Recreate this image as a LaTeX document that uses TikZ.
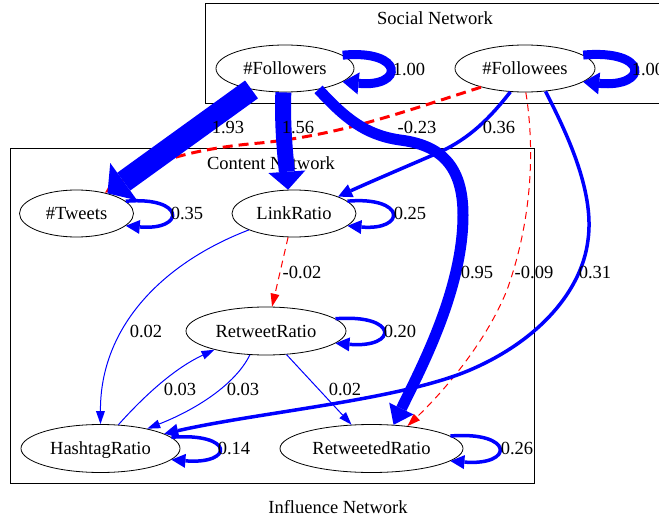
\documentclass[tikz,border=0pt]{standalone}
\usepackage{fontspec}
\setmainfont{Liberation Serif}
\usetikzlibrary{arrows.meta,shapes.geometric}

\definecolor{edgeblue}{RGB}{0,0,255}
\definecolor{edgered}{RGB}{255,0,0}

\begin{document}
\begin{tikzpicture}[x=1pt,y=-1pt,
  txt/.style={font=\fontsize{18.5}{22}\selectfont, inner sep=0pt, text height=12.5pt, text depth=0pt},
  var/.style={txt, draw=black, line width=0.8pt, ellipse, minimum height=47pt},
  cluster/.style={draw=black, line width=0.8pt},
  blueedge/.style={draw=edgeblue},
  rededge/.style={draw=edgered, dash pattern=on 7pt off 5pt},
  w1/.style={line width=1pt, -{Triangle[length=13pt,width=9pt,line width=0pt]}},
  w3/.style={line width=3.5pt, -{Triangle[length=14pt,width=14pt,line width=0pt]}},
  w9/.style={line width=9pt, -{Triangle[length=16pt,width=22pt,line width=0pt]}},
  w11/.style={line width=11pt, -{Triangle[length=18pt,width=27pt,line width=0pt]}},
  w16/.style={line width=16pt, -{Triangle[length=18pt,width=37pt,line width=0pt]}},
  w22/.style={line width=22pt, -{Triangle[length=20pt,width=46pt,line width=0pt]}},
]
\useasboundingbox (0,0) rectangle (659,519);

% clusters and their titles
\draw[cluster] (205,3) rectangle (700,103);
\draw[cluster] (10,148) rectangle (534,483);
\node[txt] (socialLbl) at (435,18) {Social Network};
\node[txt] (contentLbl) at (271,163) {Content Network};
\node[txt] (graphLbl) at (338,507) {Influence Network};

% variables
\node[var, minimum width=138pt] (fol) at (285,68.5) {\#Followers};
\node[var, minimum width=140pt] (fee) at (525,68.5) {\#Followees};
\node[var, minimum width=114pt] (tw) at (76.5,213.5) {\#Tweets};
\node[var, minimum width=124pt] (lr) at (294,213.5) {LinkRatio};
\node[var, minimum width=160pt, minimum height=48pt] (rr) at (266,331) {RetweetRatio};
\node[var, minimum width=159pt, minimum height=48pt] (hr) at (100.5,448.5) {HashtagRatio};
\node[var, minimum width=183pt, minimum height=48pt] (rd) at (371.5,448.5) {RetweetedRatio};

% negative influence (drawn first, under the heavy arrows)
\draw[rededge, line width=3pt, dash pattern=on 10pt off 6pt, -{Triangle[length=14pt,width=13pt,line width=0pt]}]
  (fee.-157) .. controls (400,113) and (340,135) .. (260,143)
  .. controls (200,148) and (150,160) .. (tw.36);
\draw[rededge, w1] (fee.-88) .. controls (535,150) and (532,220) .. (507,290)
  .. controls (485,345) and (440,395) .. (rd.32);
\draw[rededge, w1] (lr.-104) -- (rr.76);

% positive influence
\draw[blueedge, w22] (fol.-148) -- (tw.33);
\draw[blueedge, w16] (fol.-94) .. controls (282,130) and (286,160) .. (lr.104);
\draw[blueedge, w11] (fol.-32) .. controls (345,118) and (365,135) .. (400,140)
  .. controls (440,145) and (463,165) .. (463,215)
  .. controls (463,290) and (420,370) .. (rd.47);
\draw[blueedge, w3] (fee.-122) .. controls (490,118) and (470,138) .. (440,152)
  .. controls (410,165) and (370,182) .. (lr.21);
\draw[blueedge, w3] (fee.-48) .. controls (565,130) and (595,190) .. (588,240)
  .. controls (582,290) and (540,340) .. (470,370)
  .. controls (400,400) and (260,412) .. (hr.13);
\draw[blueedge, w1] (lr.-160) .. controls (165,262) and (100,325) .. (hr.90);
\draw[blueedge, w1] (hr.53) .. controls (145,395) and (175,368) .. (rr.-160);
\draw[blueedge, w1] (rr.-124) .. controls (235,385) and (195,410) .. (hr.23);
\draw[blueedge, w1] (rr.-49) -- (rd.130);

% self influence
\draw[blueedge, w9] (fol.13) .. controls +(62,-6) and +(62,6) .. (fol.-13);
\draw[blueedge, w9] (fee.13) .. controls +(66,-6) and +(66,6) .. (fee.-13);
\draw[blueedge, w3] (tw.14) .. controls +(60,-5) and +(60,5) .. (tw.-14);
\draw[blueedge, w3] (lr.13) .. controls +(59,-5) and +(59,5) .. (lr.-13);
\draw[blueedge, w3] (rr.10) .. controls +(63,-5) and +(63,5) .. (rr.-10);
\draw[blueedge, w3] (hr.9) .. controls +(63,-5) and +(63,5) .. (hr.-9);
\draw[blueedge, w3] (rd.9) .. controls +(64,-5) and +(64,5) .. (rd.-9);

% weights
\node[txt] (wFolFol) at (409,69) {1.00};
\node[txt] (wFeeFee) at (648,69) {1.00};
\node[txt] (wFolTw) at (228,127) {1.93};
\node[txt] (wFolLr) at (298,127) {1.56};
\node[txt] (wFeeTw) at (417,127) {-0.23};
\node[txt] (wFeeLr) at (499,127) {0.36};
\node[txt] (wTwTw) at (187,213) {0.35};
\node[txt] (wLrLr) at (410,213) {0.25};
\node[txt] (wLrRr) at (302,272) {-0.02};
\node[txt] (wFolRd) at (477,272) {0.95};
\node[txt] (wFeeRd) at (534,272) {-0.09};
\node[txt] (wFeeHr) at (595,272) {0.31};
\node[txt] (wLrHr) at (146,331) {0.02};
\node[txt] (wRrRr) at (400,331) {0.20};
\node[txt] (wHrRr) at (180,389) {0.03};
\node[txt] (wRrHr) at (243,389) {0.03};
\node[txt] (wRrRd) at (345,389) {0.02};
\node[txt] (wHrHr) at (234,448) {0.14};
\node[txt] (wRdRd) at (517,448) {0.26};
\end{tikzpicture}
\end{document}
